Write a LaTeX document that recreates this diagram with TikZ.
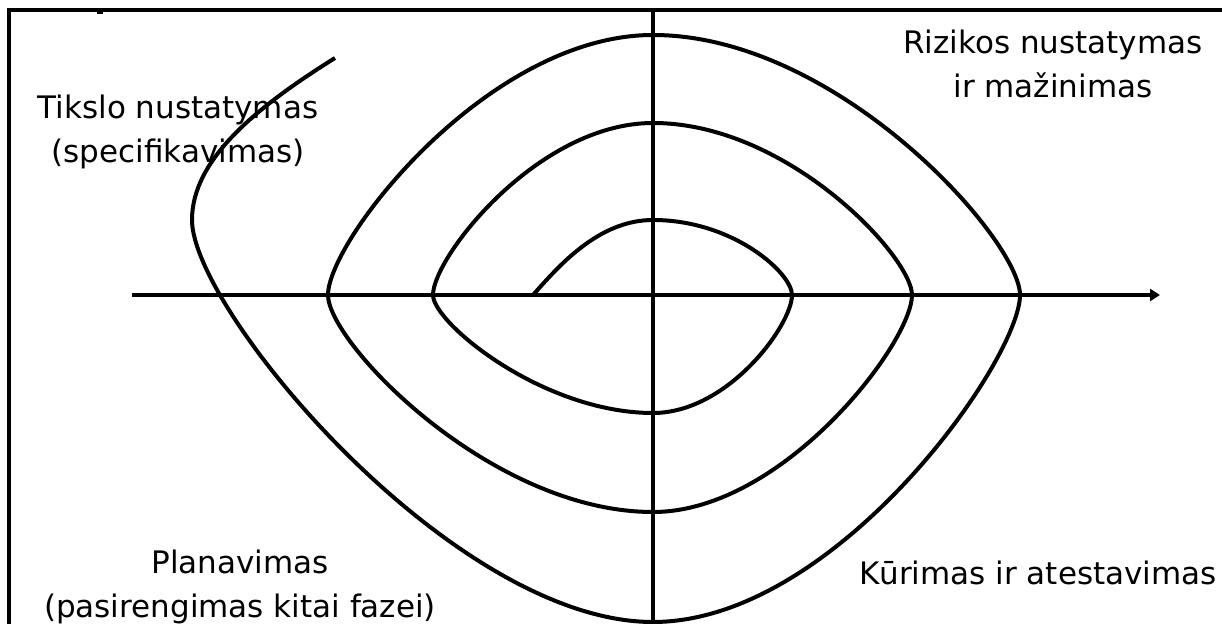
\documentclass[tikz,border=0pt]{standalone}
\usepackage{fontspec}
\setmainfont{DejaVu Sans}
\usetikzlibrary{arrows.meta}
\tikzset{
frame/.style={line width=1.8pt},
axis/.style={line width=2pt},
arrowaxis/.style={axis,line width=2.3pt,-{Triangle[length=5pt,width=6pt]}},
spiral/.style={line width=2pt,line join=round},
phase/.style={align=center,inner sep=0pt,anchor=base,font=\fontsize{15.5}{22}\selectfont}
}
\begin{document}
\begin{tikzpicture}[x=0.5pt,y=-0.5pt]
\useasboundingbox (0,0) rectangle (1222,624);
\clip (0,0) rectangle (1222,624);
% frame, cut at right and bottom
\draw[frame](9,640)--(9,10)--(1240,10);
\draw[frame](97,12)--(103,12);
% axes
\coordinate (north) at (653,10);
\coordinate (south) at (653,640);
\coordinate (west) at (132,295);
\coordinate (east) at (1160,295);
\draw[axis](north)--(south);
\draw[arrowaxis](west)--(east);
% spiral
\draw[spiral](533,295)
 .. controls +(25,-28) and +(-55,0) .. (653,220)
 .. controls +(80,0) and +(0,-22) .. (792,295)
 .. controls +(0,30) and +(75,0) .. (653,413)
 .. controls +(-110,0) and +(0,28) .. (433,295)
 .. controls +(0,-38) and +(-115,0) .. (653,123)
 .. controls +(135,0) and +(0,-38) .. (912,295)
 .. controls +(0,48) and +(130,0) .. (653,512)
 .. controls +(-162,0) and +(0,48) .. (328,295)
 .. controls +(0,-55) and +(-165,0) .. (653,35)
 .. controls +(185,0) and +(0,-55) .. (1020,295)
 .. controls +(0,65) and +(183,0) .. (653,622)
 .. controls +(-200,0) and +(0,90) .. (192,220)
 .. controls +(0,-60) and +(-80,50) .. (335,58);
% phases (anchor at last baseline)
\node[phase](goal) at (178,163){Tikslo nustatymas\\(specifikavimas)};
\node[phase](risk) at (1053,98){Rizikos nustatymas\\ir mažinimas};
\node[phase](plan) at (240,618){Planavimas\\(pasirengimas kitai fazei)};
\node[phase](build) at (1038,585){Kūrimas ir atestavimas};
\end{tikzpicture}
\end{document}
